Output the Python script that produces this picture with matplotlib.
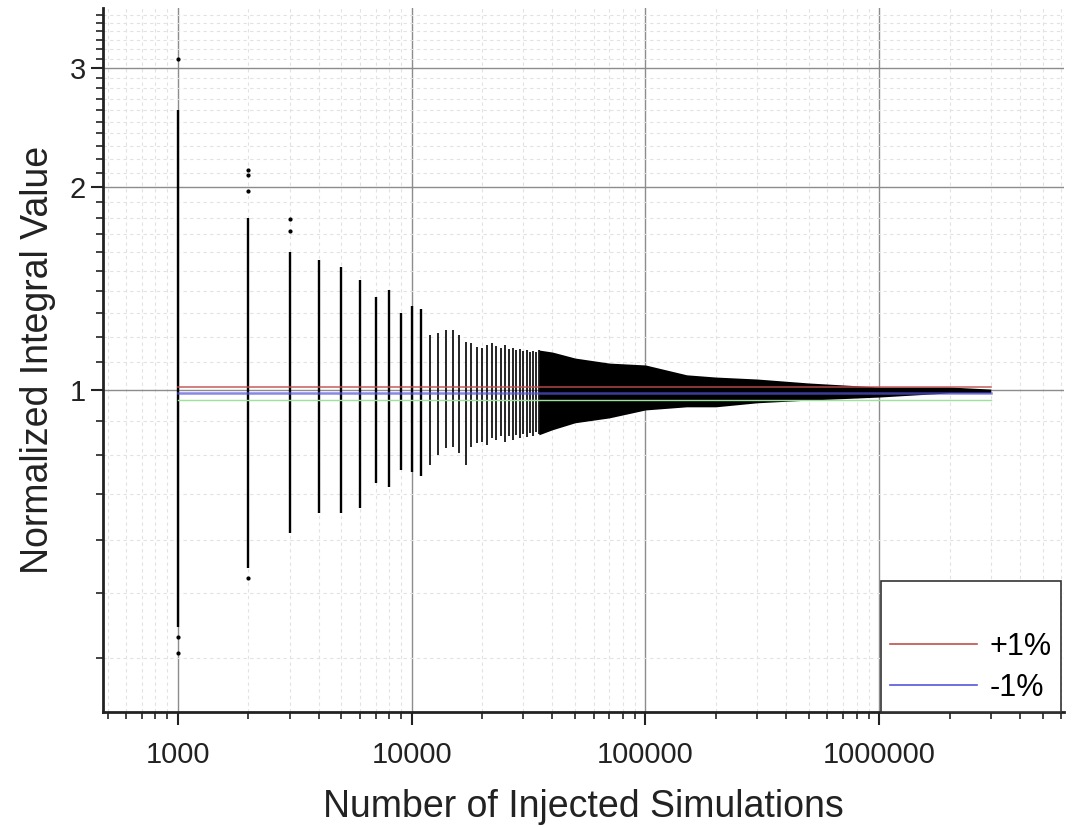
import numpy as np
import matplotlib
matplotlib.use('Agg')
import matplotlib.pyplot as plt
from matplotlib.ticker import FixedLocator, NullFormatter

plt.rcParams['font.family'] = ['Liberation Sans', 'DejaVu Sans']

# vertical stacks of results, one per number of simulations (dense part)
col_x = [1000, 2000, 3000, 4000, 5000, 6000, 7000, 8000, 9000, 10000,
         11000, 12000, 13000, 14000, 15000, 16000, 17000, 18000, 19000, 20000,
         21000, 22000, 23000, 24000, 25000, 26000, 27000, 28000, 29000, 30000,
         31000, 32000, 33000, 34000, 35000]
col_hi = [2.60, 1.80, 1.60, 1.56, 1.52, 1.455, 1.374, 1.406, 1.30, 1.33,
          1.32, 1.206, 1.215, 1.227, 1.227, 1.206, 1.178, 1.174, 1.158, 1.154,
          1.166, 1.174, 1.162, 1.154, 1.166, 1.150, 1.154, 1.146, 1.150, 1.142,
          1.146, 1.138, 1.142, 1.138, 1.146]
col_lo = [0.445, 0.545, 0.614, 0.657, 0.657, 0.668, 0.728, 0.718, 0.761, 0.756,
          0.745, 0.774, 0.801, 0.820, 0.823, 0.807, 0.774, 0.823, 0.835, 0.838,
          0.829, 0.849, 0.843, 0.855, 0.838, 0.855, 0.843, 0.858, 0.849, 0.861,
          0.852, 0.864, 0.855, 0.866, 0.861]

# isolated points outside the dense stacks
out_x = [1000, 1000, 1000, 2000, 2000, 2000, 2000, 3000, 3000]
out_y = [3.10, 0.43, 0.408, 2.12, 2.08, 1.97, 0.527, 1.79, 1.72]

# envelope of the continuous cloud for large numbers of simulations
env_x = [35000, 40000, 50000, 70000, 100000, 150000, 200000, 300000, 500000,
         1000000, 2000000, 3000000]
env_hi = [1.146, 1.138, 1.115, 1.096, 1.089, 1.053, 1.045, 1.038, 1.024,
          1.010, 1.010, 1.003]
env_lo = [0.858, 0.873, 0.894, 0.909, 0.934, 0.944, 0.944, 0.957, 0.966,
          0.976, 0.990, 0.990]

# reference lines
ref_x = [1000, 3000000]
plus1 = 1.01
minus1 = 0.99
minus3 = 0.965

fig = plt.figure(figsize=(10.79, 8.27), dpi=100)
ax = fig.add_axes([0.0955, 0.139, 0.891, 0.851])
ax.set_xscale('log')
ax.set_yscale('log')

# thinner strokes once the stacks get close together
widths = [1.7 if x <= 11000 else 1.2 for x in col_x]
ax.vlines(col_x, col_lo, col_hi, colors='black', lw=widths, zorder=3)
ax.scatter(out_x, out_y, s=4, color='black', zorder=3)
ax.fill_between(env_x, env_lo, env_hi, color='black', lw=0, zorder=3)

ax.plot(ref_x, [minus3, minus3], color='#9be39b', lw=1, zorder=4)
ax.plot(ref_x, [plus1, plus1], color='#c0504d', lw=1.2, alpha=0.85, zorder=4)
ax.plot(ref_x, [minus1, minus1], color='#5555dd', lw=1.8, alpha=0.7, zorder=4)

ax.set_xlim(478, 6.2e6)
ax.set_ylim(0.333, 3.68)

ax.xaxis.set_major_locator(FixedLocator([1e3, 1e4, 1e5, 1e6]))
ax.set_xticklabels(['1000', '10000', '100000', '1000000'])
xminor = [m * 10 ** e for e in range(2, 7) for m in range(2, 10)]
ax.xaxis.set_minor_locator(FixedLocator(xminor))
ax.xaxis.set_minor_formatter(NullFormatter())

ax.yaxis.set_major_locator(FixedLocator([1, 2, 3]))
ax.set_yticklabels(['1', '2', '3'])
yminor = [round(v, 1) for v in np.arange(0.4, 3.65, 0.1) if round(v, 1) not in (1.0, 2.0, 3.0)]
ax.yaxis.set_minor_locator(FixedLocator(yminor))
ax.yaxis.set_minor_formatter(NullFormatter())

ax.grid(which='major', color='#8c8c8c', lw=1, zorder=0)
ax.grid(which='minor', color='#e2e2e2', lw=0.8, ls=(0, (3, 3)), zorder=0)
ax.set_axisbelow(True)

for s in ['top', 'right']:
    ax.spines[s].set_visible(False)
for s in ['left', 'bottom']:
    ax.spines[s].set_linewidth(2)
    ax.spines[s].set_color('#222222')

ax.tick_params(which='major', direction='out', length=9, width=1.5, labelsize=21, colors='#222222')
ax.tick_params(which='minor', direction='out', length=5, width=1.2, colors='#222222')
ax.tick_params(axis='x', pad=12)

ax.set_xlabel('Number of Injected Simulations', fontsize=27, color='#222222', labelpad=14)
ax.set_ylabel('Normalized Integral Value', fontsize=27, color='#222222', labelpad=10)

h0, = ax.plot([], [], color='none', label=' ')
h1, = ax.plot([], [], color='#c0504d', lw=1.2, label='+1%')
h2, = ax.plot([], [], color='#5555dd', lw=1.2, label='-1%')
leg = ax.legend(handles=[h0, h1, h2], loc='lower right', bbox_to_anchor=(0.9965, 0),
                borderaxespad=0, fontsize=22, frameon=True, fancybox=False,
                edgecolor='#333333', framealpha=1, handlelength=2.85,
                handletextpad=0.42, labelspacing=0.37, borderpad=0.3)
leg.get_frame().set_linewidth(1.2)

fig.savefig('out.png', dpi=100)
